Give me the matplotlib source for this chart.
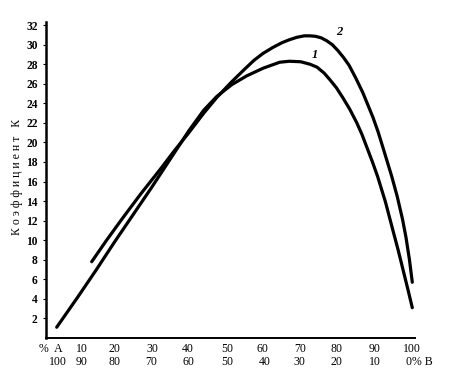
import matplotlib
matplotlib.use('Agg')
import matplotlib.pyplot as plt
import matplotlib.transforms as mtransforms

# curve 1
x1 = [4.5, 10, 15, 20, 25, 30, 35, 40, 44, 47.5, 51.5, 55.5, 60, 64.4, 67,
      70, 72.5, 74.4, 76.3, 77.9, 79.6, 81.3, 83.2, 85.1, 86.5, 87.8, 89.3, 90.7,
      92.8, 94.8, 96.2, 97.5, 98.8, 100]
y1 = [1.1, 4.1, 6.9, 9.8, 12.6, 15.4, 18.3, 21.2, 23.3, 24.7, 25.9, 26.8, 27.6, 28.2, 28.3,
      28.25, 28.0, 27.7, 27.1, 26.4, 25.6, 24.6, 23.4, 22.0, 20.8, 19.5, 18.0, 16.5,
      13.9, 11.0, 9.0, 7.0, 5.0, 3.1]

# curve 2
x2 = [13.9, 17.9, 21.9, 27, 32.2, 36, 39.8, 44, 47.5, 51.5, 55, 57.5, 59.9, 62.5, 65, 67,
      69, 71, 72.5, 74, 75.5, 77, 78.5, 80, 81.5, 83, 84.8, 86.7, 88, 89.4, 90.8,
      92.1, 93.3, 94.5, 96, 97.4, 98.3, 99.2, 100]
y2 = [7.8, 10.0, 12.1, 14.7, 17.2, 19.1, 20.9, 23.0, 24.6, 26.2, 27.5, 28.4, 29.1, 29.7, 30.2, 30.5,
      30.75, 30.9, 30.9, 30.85, 30.7, 30.4, 30.0, 29.4, 28.7, 27.9, 26.6, 25.1, 23.9, 22.6, 21.1,
      19.5, 18.0, 16.5, 14.4, 12.1, 10.3, 8.1, 5.7]

yticks = [2, 4, 6, 8, 10, 12, 14, 16, 18, 20, 22, 24, 26, 28, 30, 32]

top_pos = [2.9, 11.3, 20, 30.2, 39.8, 50.2, 59.7, 69.8, 79.7, 89.9, 100]
top_lab = ['%  A', '10', '20', '30', '40', '50', '60', '70', '80', '90', '100']
bot_pos = [4.8, 11.3, 20, 29.8, 40, 50.4, 60.4, 69.8, 79.7, 89.9, 102]
bot_lab = ['100', '90', '80', '70', '60', '50', '40', '30', '20', '10', '0% B']

serif = ['Liberation Serif', 'DejaVu Serif']

fig = plt.figure(figsize=(4.5, 3.69), dpi=100)
ax = fig.add_axes([0.102, 0.084, 0.82, 0.856])

ax.plot(x1, y1, color='black', lw=2.3, solid_capstyle='round', solid_joinstyle='round')
ax.plot(x2, y2, color='black', lw=2.3, solid_capstyle='round', solid_joinstyle='round')

ax.set_xlim(1.6, 100.7)
ax.set_ylim(0, 32.3)

for s in ['top', 'right']:
    ax.spines[s].set_visible(False)
ax.spines['left'].set_linewidth(1.8)
ax.spines['bottom'].set_linewidth(1.4)

ax.set_yticks(yticks)
ax.set_yticklabels([str(t) for t in yticks], family=serif, fontweight='bold', fontsize=8.3)
ax.tick_params(axis='y', length=2, width=0.8, pad=4)
ax.set_xticks([])

trans = mtransforms.blended_transform_factory(ax.transData, ax.transAxes)
for p, t in zip(top_pos, top_lab):
    ax.text(p, -0.035, t, transform=trans, ha='center', va='center', family=serif, fontsize=8.5)
for p, t in zip(bot_pos, bot_lab):
    ax.text(p, -0.076, t, transform=trans, ha='center', va='center', family=serif, fontsize=8.5)

ax.text(-0.078, 0.51, 'К о э ф ф и ц и е н т   К', transform=ax.transAxes, rotation=90,
        ha='center', va='center', family=serif, fontsize=8.5)

ax.text(73.8, 28.9, '1', family=serif, fontstyle='italic', fontweight='bold', fontsize=9,
        ha='center', va='center')
ax.text(80.5, 31.3, '2', family=serif, fontstyle='italic', fontweight='bold', fontsize=9,
        ha='center', va='center')

fig.savefig('out.png', dpi=100)
